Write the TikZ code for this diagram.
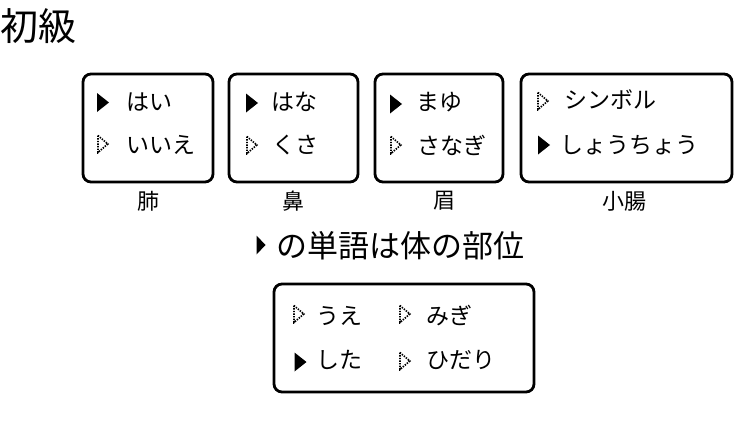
\documentclass[tikz,border=0pt]{standalone}
\usepackage{fontspec}
\setmainfont{Noto Sans CJK JP}
\usetikzlibrary{positioning}

\begin{document}
\begin{tikzpicture}[x=1pt,y=-1pt,
	word box/.style={draw,line width=2.8pt,rounded corners=8pt,inner sep=0pt,minimum height=108pt},
	word/.style={anchor=west,inner sep=0pt,font=\fontsize{23}{26}\selectfont},
	tag/.style={inner sep=0pt,font=\fontsize{22}{26}\selectfont},
	tick mark/.style={inner sep=0pt,minimum width=12pt,minimum height=19pt},
	yes mark/.style={tick mark,path picture={
		\fill (path picture bounding box.north west) -- (path picture bounding box.east)
			-- (path picture bounding box.south west) -- cycle;}},
	no mark/.style={tick mark,path picture={
		\draw[line width=1.7pt,dash pattern=on 1.4pt off 1.2pt]
			([shift={(0.9pt,-1pt)}]path picture bounding box.north west)
			-- ([shift={(-1.2pt,0pt)}]path picture bounding box.east)
			-- ([shift={(0.9pt,1pt)}]path picture bounding box.south west) -- cycle;}}]
	
	\useasboundingbox (0,0) rectangle (750,431);
	
	\node[anchor=west,inner sep=0pt,font=\fontsize{38}{40}\selectfont] (title) at (0,26) {初級};
	
	% the four cards
	\node[word box,minimum width=130pt] (b1) at (148,128) {};
	\node[word box,minimum width=129pt] (b2) at (293.5,128) {};
	\node[word box,minimum width=128pt] (b3) at (439,128) {};
	\node[word box,minimum width=211pt] (b4) at (626.5,128) {};
	
	\node[tag] (t1) at (148,201) {肺};
	\node[tag] (t2) at (293.5,201) {鼻};
	\node[tag] (t3) at (444,201) {眉};
	\node[tag] (t4) at (624,201) {小腸};
	
	\node[yes mark] (m11) at (103,102.5) {};
	\node[word] (w11) at (126,102) {はい};
	\node[no mark] (m12) at (103,144) {};
	\node[word] (w12) at (126,145) {いいえ};
	
	\node[yes mark] (m21) at (252,103) {};
	\node[word] (w21) at (271,102) {はな};
	\node[no mark] (m22) at (252,145) {};
	\node[word] (w22) at (272,145) {くさ};
	
	\node[yes mark] (m31) at (396,104) {};
	\node[word] (w31) at (416,102) {まゆ};
	\node[no mark] (m32) at (396,145) {};
	\node[word] (w32) at (417,145) {さなぎ};
	
	\node[no mark] (m41) at (543,101) {};
	\node[word] (w41) at (564,100) {シンボル};
	\node[yes mark] (m42) at (544,145) {};
	\node[word] (w42) at (560,145) {しょうちょう};
	
	% the question
	\node[yes mark,minimum width=9pt,minimum height=19pt] (q) at (261,245) {};
	\node[word,font=\fontsize{31}{34}\selectfont] (topic) at (276,246) {の単語は体の部位};
	
	% the answer card
	\node[word box,minimum width=260pt] (b5) at (404,338) {};
	\node[no mark] (m51) at (299,314) {};
	\node[word] (w51) at (316,316) {うえ};
	\node[no mark] (m52) at (405,314) {};
	\node[word] (w52) at (426,316) {みぎ};
	\node[yes mark] (m53) at (300.5,362) {};
	\node[word] (w53) at (316,360) {した};
	\node[no mark] (m54) at (405,361) {};
	\node[word] (w54) at (426,360) {ひだり};
	
\end{tikzpicture}
\end{document}
